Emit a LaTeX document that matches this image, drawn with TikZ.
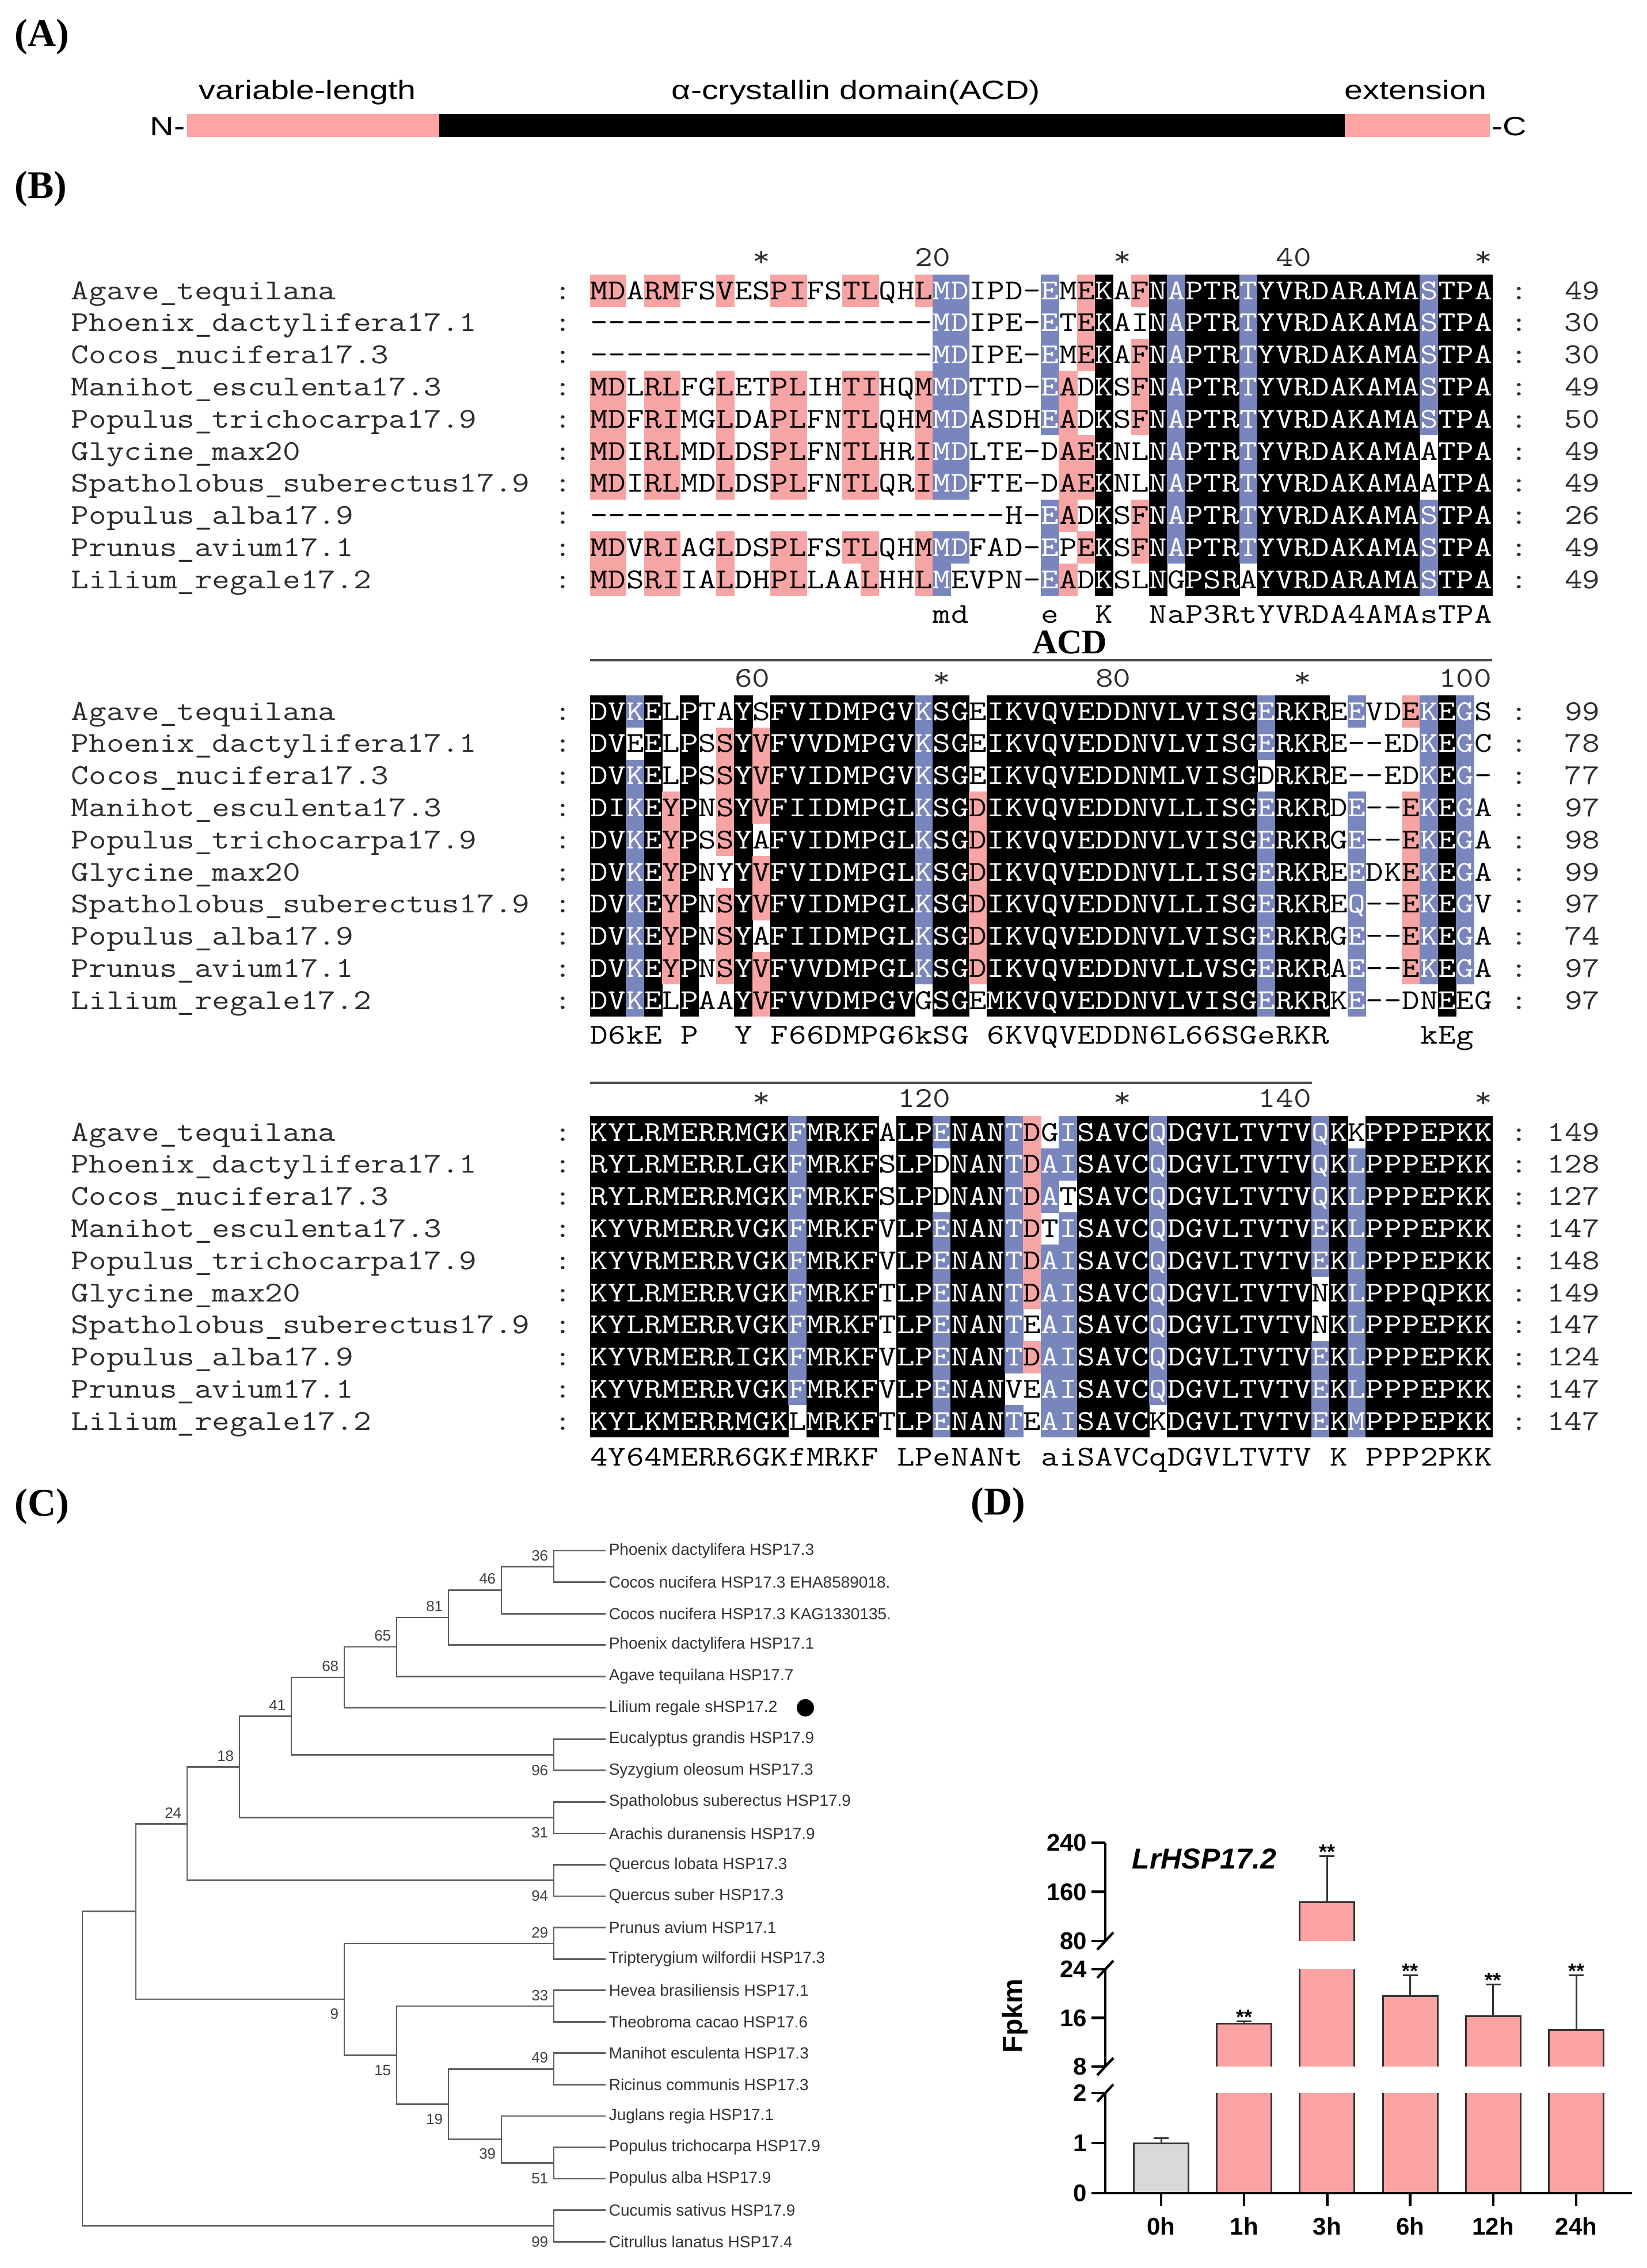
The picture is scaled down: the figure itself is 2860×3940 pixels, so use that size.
\documentclass[tikz,border=0pt]{standalone}
\usepackage{fontspec}
\usepackage{graphicx}
\setsansfont{Liberation Sans}
\newfontfamily\serifL{Liberation Serif}
\newfontfamily\domfont[FakeStretch=1.25]{Liberation Sans}
\definecolor{alnblue}{RGB}{121,134,189}
\definecolor{alnpink}{RGB}{246,164,164}
\definecolor{dompink}{RGB}{255,163,163}
\definecolor{barpink}{RGB}{251,162,162}
\definecolor{bargray}{RGB}{217,217,217}
\definecolor{alngray}{RGB}{45,45,45}
\definecolor{treegray}{RGB}{95,95,95}
\newcommand\alnfont{\ttfamily\fontsize{12.5}{12.5}\selectfont}
\newcommand\sx[1]{\scalebox{1.19}[1]{#1}}

\newcount\alncol
\def\alnrow#1#2#3{\alncol=0 \def\alny{#1}\alnparse#2\alnend#3\alnend}
\def\alnparse#1#2\alnend#3#4\alnend{%
  \alncell{#1}{#3}%
  \advance\alncol by 1\relax
  \def\alnrest{#2}%
  \ifx\alnrest\empty\let\alnnext\alnstop\else\let\alnnext\alnparse\fi
  \alnnext#2\alnend#4\alnend}
\def\alnstop#1\alnend#2\alnend{}
\def\alncell#1#2{%
  \edef\alnx{\the\alncol}%
  \def\alntc{black}%
  \if#2k\fill[black] ({1024.5+\alnx*31.34},{\alny-28}) rectangle ({1025.5+(\alnx+1)*31.34},{\alny+28});\def\alntc{white}\fi
  \if#2b\fill[alnblue] ({1024.5+\alnx*31.34},{\alny-28}) rectangle ({1025.5+(\alnx+1)*31.34},{\alny+28});\def\alntc{white}\fi
  \if#2p\fill[alnpink] ({1024.5+\alnx*31.34},{\alny-28}) rectangle ({1025.5+(\alnx+1)*31.34},{\alny+28});\fi
  \if#1.\else\node[alnchar,text=\alntc] at ({1025+(\alnx+0.5)*31.34},{\alny+15}) {\sx{#1}};\fi}

\newcommand\seqrow[5]{%
  \pgfmathsetmacro\ry{#1}%
  \node[alnname] at (123,{\ry+15}) {\sx{#2}};
  \node[alnchar,text=alngray] at (978,{\ry+15}) {\sx{:}};
  \alnrow{\ry}{#3}{#4}%
  \node[alnchar,text=alngray] at (2639,{\ry+15}) {\sx{:}};
  \node[alnnum] at (2780,{\ry+15}) {\sx{#5}};}

\newcommand\barpiece[5]{%
  \fill[#4] ({#1-47.5},#2) rectangle ({#1+47.5},#3);
  \ifnum#5=1 \draw[barline] ({#1-47.5},#2) -- ({#1-47.5},#3) -- ({#1+47.5},#3) -- ({#1+47.5},#2);
  \else \draw[barline] ({#1-47.5},#2) -- ({#1-47.5},#3) ({#1+47.5},#2) -- ({#1+47.5},#3);\fi}

\tikzset{
  alnchar/.style={font=\alnfont,inner sep=0pt,anchor=base},
  alnname/.style={font=\alnfont,inner sep=0pt,anchor=base west,text=alngray},
  alnnum/.style={font=\alnfont,inner sep=0pt,anchor=base east,text=alngray},
  panellab/.style={font=\serifL\bfseries\fontsize{17}{17}\selectfont,inner sep=0pt,anchor=west},
  domtext/.style={font=\domfont\fontsize{11.5}{12}\selectfont,inner sep=0pt,anchor=base},
  treeline/.style={draw=treegray,line width=0.7pt},
  leaflab/.style={font=\sffamily\fontsize{7}{7}\selectfont,inner sep=0pt,anchor=west,text=black!80},
  bootlab/.style={font=\sffamily\fontsize{6.5}{6.5}\selectfont,inner sep=0pt,anchor=east,text=black!75},
  barline/.style={draw=black!80,line width=0.75pt},
  axisline/.style={draw=black,line width=1.1pt},
  ticklab/.style={font=\sffamily\bfseries\fontsize{10.5}{10.5}\selectfont,inner sep=0pt},
  acdline/.style={draw=black!70,line width=1pt},
}

\begin{document}
\begin{tikzpicture}[x=0.25pt,y=-0.25pt]
\fill[white] (0,0) rectangle (2860,3940);
\useasboundingbox (0,0) rectangle (2860,3940);

% ---------------- Panel A ----------------
\node[panellab] (labA) at (25,64) {(A)};
\node[domtext] (tvar) at (534,172) {variable-length};
\node[domtext] (tacd) at (1487,172) {α-crystallin domain(ACD)};
\node[domtext] (text) at (2459,172) {extension};
\fill[dompink] (325,198) rectangle (763,238);
\fill[black] (763,198) rectangle (2336,238);
\fill[dompink] (2336,198) rectangle (2588,238);
\node[font=\domfont\fontsize{11.5}{12}\selectfont,inner sep=0pt,anchor=east] (nterm) at (322,220) {N-};
\node[font=\domfont\fontsize{11.5}{12}\selectfont,inner sep=0pt,anchor=west] (cterm) at (2591,220) {-C};

% ---------------- Panel B ----------------
\node[panellab] (labB) at (25,328) {(B)};

% block 1 header
\node[alnchar,text=alngray] at (1322.7,462) {\sx{*}};
\node[alnnum] at (1651.8,462) {\sx{20}};
\node[alnchar,text=alngray] at (1949.5,462) {\sx{*}};
\node[alnnum] at (2278.6,462) {\sx{40}};
\node[alnchar,text=alngray] at (2576.3,462) {\sx{*}};

\seqrow{505.0}{Agave\_tequilana}{MDARMFSVESPIFSTLQHLMDIPD-EMEKAFNAPTRTYVRDARAMASTPA}{ppwppwwpww ppwwppwwpb bwwwwbwpkw pkbkkkbkkk kkkkkkbkkk}{49}
\seqrow{560.8}{Phoenix\_dactylifera17.1}{-------------------MDIPE-ETEKAINAPTRTYVRDAKAMASTPA}{wwwwwwwwww wwwwwwwwwb bwwwwbwpkw wkbkkkbkkk kkkkkkbkkk}{30}
\seqrow{616.6}{Cocos\_nucifera17.3}{-------------------MDIPE-EMEKAFNAPTRTYVRDAKAMASTPA}{wwwwwwwwww wwwwwwwwwb bwwwwbwpkw pkbkkkbkkk kkkkkkbkkk}{30}
\seqrow{672.4}{Manihot\_esculenta17.3}{MDLRLFGLETPLIHTIHQMMDTTD-EADKSFNAPTRTYVRDAKAMASTPA}{ppwppwwpww ppwwppwwpb bwwwwbpwkw pkbkkkbkkk kkkkkkbkkk}{49}
\seqrow{728.2}{Populus\_trichocarpa17.9}{MDFRIMGLDAPLFNTLQHMMDASDHEADKSFNAPTRTYVRDAKAMASTPA}{ppwppwwpww ppwwppwwpb bwwwwbpwkw pkbkkkbkkk kkkkkkbkkk}{50}
\seqrow{784.0}{Glycine\_max20}{MDIRLMDLDSPLFNTLHRIMDLTE-DAEKNLNAPTRTYVRDAKAMAATPA}{ppwppwwpww ppwwppwwpb bwwwwwppkw wkbkkkbkkk kkkkkkwkkk}{49}
\seqrow{839.8}{Spatholobus\_suberectus17.9}{MDIRLMDLDSPLFNTLQRIMDFTE-DAEKNLNAPTRTYVRDAKAMAATPA}{ppwppwwpww ppwwppwwpb bwwwwwppkw wkbkkkbkkk kkkkkkwkkk}{49}
\seqrow{895.6}{Populus\_alba17.9}{-----------------------H-EADKSFNAPTRTYVRDAKAMASTPA}{wwwwwwwwww wwwwwwwwww wwwwwbpwkw pkbkkkbkkk kkkkkkbkkk}{26}
\seqrow{951.4}{Prunus\_avium17.1}{MDVRIAGLDSPLFSTLQHMMDFAD-EPEKSFNAPTRTYVRDAKAMASTPA}{ppwppwwpww ppwwppwwpb bwwwwbwpkw pkbkkkbkkk kkkkkkbkkk}{49}
\seqrow{1007.2}{Lilium\_regale17.2}{MDSRIIALDHPLLAALHHLMEVPN-EADKSLNGPSRAYVRDARAMASTPA}{ppwppwwpww ppwwwpwwpb wwwwwbpwkw wkwkkkwkkk kkkkkkbkkk}{49}
\alnrow{1067}{...................md....e..K..NaP3RtYVRDA4AMAsTPA}{wwwwwwwwww wwwwwwwwww wwwwwwwwww wwwwwwwwww wwwwwwwwww}

% block 2
\node[font=\serifL\bfseries\fontsize{15}{15}\selectfont,inner sep=0pt] (acdlab) at (1858,1116) {ACD};
\draw[acdline] (1025,1147) -- (2592,1147);
\node[alnnum] at (1338.4,1193) {\sx{60}};
\node[alnchar,text=alngray] at (1636.1,1193) {\sx{*}};
\node[alnnum] at (1965.2,1193) {\sx{80}};
\node[alnchar,text=alngray] at (2262.9,1193) {\sx{*}};
\node[alnnum] at (2592,1193) {\sx{100}};

\seqrow{1236.0}{Agave\_tequilana}{DVKELPTAYSFVIDMPGVKSGEIKVQVEDDNVLVISGERKREEVDEKEGS}{kkbkwkwwkw kkkkkkkkbk kwkkkkkkkk kkkkkkkbkk kwbwwpbkbw}{99}
\seqrow{1291.8}{Phoenix\_dactylifera17.1}{DVEELPSSYVFVVDMPGVKSGEIKVQVEDDNVLVISGERKRE--EDKEGC}{kkwkwkwpkp kkkkkkkkbk kwkkkkkkkk kkkkkkkbkk kwwwwwbkbw}{78}
\seqrow{1347.6}{Cocos\_nucifera17.3}{DVKELPSSYVFVIDMPGVKSGEIKVQVEDDNMLVISGDRKRE--EDKEG-}{kkbkwkwpkp kkkkkkkkbk kwkkkkkkkk kkkkkkkwkk kwwwwwbkbw}{77}
\seqrow{1403.4}{Manihot\_esculenta17.3}{DIKEYPNSYVFIIDMPGLKSGDIKVQVEDDNVLLISGERKRDE--EKEGA}{kkbkpkwpkp kkkkkkkkbk kpkkkkkkkk kkkkkkkbkk kwbwwpbkbw}{97}
\seqrow{1459.2}{Populus\_trichocarpa17.9}{DVKEYPSSYAFVIDMPGLKSGDIKVQVEDDNVLVISGERKRGE--EKEGA}{kkbkpkwpkw kkkkkkkkbk kpkkkkkkkk kkkkkkkbkk kwbwwpbkbw}{98}
\seqrow{1515.0}{Glycine\_max20}{DVKEYPNYYVFVIDMPGLKSGDIKVQVEDDNVLLISGERKREEDKEKEGA}{kkbkpkwwkp kkkkkkkkbk kpkkkkkkkk kkkkkkkbkk kwbwwpbkbw}{99}
\seqrow{1570.8}{Spatholobus\_suberectus17.9}{DVKEYPNSYVFVIDMPGLKSGDIKVQVEDDNVLLISGERKREQ--EKEGV}{kkbkpkwpkp kkkkkkkkbk kpkkkkkkkk kkkkkkkbkk kwbwwpbkbw}{97}
\seqrow{1626.6}{Populus\_alba17.9}{DVKEYPNSYAFIIDMPGLKSGDIKVQVEDDNVLVISGERKRGE--EKEGA}{kkbkpkwpkw kkkkkkkkbk kpkkkkkkkk kkkkkkkbkk kwbwwpbkbw}{74}
\seqrow{1682.4}{Prunus\_avium17.1}{DVKEYPNSYVFVVDMPGLKSGDIKVQVEDDNVLLVSGERKRAE--EKEGA}{kkbkpkwpkp kkkkkkkkbk kpkkkkkkkk kkkkkkkbkk kwbwwpbkbw}{97}
\seqrow{1738.2}{Lilium\_regale17.2}{DVKELPAAYVFVVDMPGVGSGEMKVQVEDDNVLVISGERKRKE--DNEEG}{kkbkwkwwkp kkkkkkkkwk kwkkkkkkkk kkkkkkkbkk kwbwwwwkww}{97}
\alnrow{1798}{D6kE.P..Y.F66DMPG6kSG.6KVQVEDDN6L66SGeRKR.....kEg.}{wwwwwwwwww wwwwwwwwww wwwwwwwwww wwwwwwwwww wwwwwwwwww}

% block 3
\draw[acdline] (1025,1881) -- (2279,1881);
\node[alnchar,text=alngray] at (1322.7,1923) {\sx{*}};
\node[alnnum] at (1651.8,1923) {\sx{120}};
\node[alnchar,text=alngray] at (1949.5,1923) {\sx{*}};
\node[alnnum] at (2278.6,1923) {\sx{140}};
\node[alnchar,text=alngray] at (2576.3,1923) {\sx{*}};

\seqrow{1967.0}{Agave\_tequilana}{KYLRMERRMGKFMRKFALPENANTDGISAVCQDGVLTVTVQKKPPPEPKK}{kkkkkkkkkk kbkkkkwkkb kkkbpwbkkk kbkkkkkkkk bkwkkkkkkk}{149}
\seqrow{2022.8}{Phoenix\_dactylifera17.1}{RYLRMERRLGKFMRKFSLPDNANTDAISAVCQDGVLTVTVQKLPPPEPKK}{kkkkkkkkkk kbkkkkwkkw kkkbpbbkkk kbkkkkkkkk bkbkkkkkkk}{128}
\seqrow{2078.6}{Cocos\_nucifera17.3}{RYLRMERRMGKFMRKFSLPDNANTDATSAVCQDGVLTVTVQKLPPPEPKK}{kkkkkkkkkk kbkkkkwkkw kkkbpbwkkk kbkkkkkkkk bkbkkkkkkk}{127}
\seqrow{2134.4}{Manihot\_esculenta17.3}{KYVRMERRVGKFMRKFVLPENANTDTISAVCQDGVLTVTVEKLPPPEPKK}{kkkkkkkkkk kbkkkkwkkb kkkbpwbkkk kbkkkkkkkk bkbkkkkkkk}{147}
\seqrow{2190.2}{Populus\_trichocarpa17.9}{KYVRMERRVGKFMRKFVLPENANTDAISAVCQDGVLTVTVEKLPPPEPKK}{kkkkkkkkkk kbkkkkwkkb kkkbpbbkkk kbkkkkkkkk bkbkkkkkkk}{148}
\seqrow{2246.0}{Glycine\_max20}{KYLRMERRVGKFMRKFTLPENANTDAISAVCQDGVLTVTVNKLPPPQPKK}{kkkkkkkkkk kbkkkkwkkb kkkbpbbkkk kbkkkkkkkk wkbkkkkkkk}{149}
\seqrow{2301.8}{Spatholobus\_suberectus17.9}{KYLRMERRVGKFMRKFTLPENANTEAISAVCQDGVLTVTVNKLPPPEPKK}{kkkkkkkkkk kbkkkkwkkb kkkbwbbkkk kbkkkkkkkk wkbkkkkkkk}{147}
\seqrow{2357.6}{Populus\_alba17.9}{KYVRMERRIGKFMRKFVLPENANTDAISAVCQDGVLTVTVEKLPPPEPKK}{kkkkkkkkkk kbkkkkwkkb kkkbpbbkkk kbkkkkkkkk bkbkkkkkkk}{124}
\seqrow{2413.4}{Prunus\_avium17.1}{KYVRMERRVGKFMRKFVLPENANVEAISAVCQDGVLTVTVEKLPPPEPKK}{kkkkkkkkkk kbkkkkwkkb kkkwwbbkkk kbkkkkkkkk bkbkkkkkkk}{147}
\seqrow{2469.2}{Lilium\_regale17.2}{KYLKMERRMGKLMRKFTLPENANTEAISAVCKDGVLTVTVEKMPPPEPKK}{kkkkkkkkkk kwkkkkwkkb kkkbwbbkkk kwkkkkkkkk bkbkkkkkkk}{147}
\alnrow{2531}{4Y64MERR6GKfMRKF.LPeNANt.aiSAVCqDGVLTVTV.K.PPP2PKK}{wwwwwwwwww wwwwwwwwww wwwwwwwwww wwwwwwwwww wwwwwwwwww}

% ---------------- Panel C ----------------
\node[panellab] (labC) at (25,2617) {(C)};
\foreach \i/\t in {1/Phoenix dactylifera HSP17.3, 2/Cocos nucifera HSP17.3 EHA8589018., 3/Cocos nucifera HSP17.3 KAG1330135., 4/Phoenix dactylifera HSP17.1, 5/Agave tequilana HSP17.7, 6/Lilium regale sHSP17.2, 7/Eucalyptus grandis HSP17.9, 8/Syzygium oleosum HSP17.3, 9/Spatholobus suberectus HSP17.9, 10/Arachis duranensis HSP17.9, 11/Quercus lobata HSP17.3, 12/Quercus suber HSP17.3, 13/Prunus avium HSP17.1, 14/Tripterygium wilfordii HSP17.3, 15/Hevea brasiliensis HSP17.1, 16/Theobroma cacao HSP17.6, 17/Manihot esculenta HSP17.3, 18/Ricinus communis HSP17.3, 19/Juglans regia HSP17.1, 20/Populus trichocarpa HSP17.9, 21/Populus alba HSP17.9, 22/Cucumis sativus HSP17.9, 23/Citrullus lanatus HSP17.4}{
  \coordinate (L\i) at (1052,{2694+(\i-1)*54.55});
  \node[leaflab] (T\i) at (1057,{2694+(\i-1)*54.55}) {\t};
}
\coordinate (n36) at (962,2721.3);
\coordinate (n46) at (871,2762.2);
\coordinate (n81) at (779,2809.9);
\coordinate (n65) at (689,2861.05);
\coordinate (n68) at (598,2913.9);
\coordinate (n96) at (962,3048.6);
\coordinate (n41) at (506,2981.25);
\coordinate (n31) at (962,3157.7);
\coordinate (n18) at (416,3069.5);
\coordinate (n94) at (962,3266.8);
\coordinate (n24) at (325,3168.15);
\coordinate (n29) at (962,3375.9);
\coordinate (n33) at (962,3485.0);
\coordinate (n49) at (962,3594.1);
\coordinate (n51) at (962,3757.7);
\coordinate (n39) at (871,3716.8);
\coordinate (n19) at (779,3655.45);
\coordinate (n15) at (689,3570.2);
\coordinate (n9) at (598,3473.05);
\coordinate (nA) at (236,3320.6);
\coordinate (n99) at (962,3866.8);
\coordinate (root) at (143,3593.7);
\foreach \p/\c in {n36/L1,n36/L2,n46/n36,n46/L3,n81/n46,n81/L4,n65/n81,n65/L5,n68/n65,n68/L6,n96/L7,n96/L8,n41/n68,n41/n96,n31/L9,n31/L10,n18/n41,n18/n31,n94/L11,n94/L12,n24/n18,n24/n94,n29/L13,n29/L14,n33/L15,n33/L16,n49/L17,n49/L18,n51/L20,n51/L21,n39/L19,n39/n51,n19/n49,n19/n39,n15/n33,n15/n19,n9/n29,n9/n15,nA/n24,nA/n9,n99/L22,n99/L23,root/nA,root/n99}{
  \draw[treeline] (\p) |- (\c);
}
\foreach \v/\x/\y in {36/953/2703,46/862/2743,81/770/2791,65/680/2842,68/589/2895,41/497/2963,18/407/3051,24/316/3149,96/953/3076,31/953/3184,94/953/3294,29/953/3358,33/953/3467,49/953/3575,51/953/3785,39/862/3742,19/770/3682,15/680/3597,9/589/3499,99/953/3894}{
  \node[bootlab] (b\v) at (\x,\y) {\v};
}
\fill[black] (1399,2966.75) circle [radius=15];

% ---------------- Panel D ----------------
\node[panellab] (labD) at (1686,2615) {(D)};
\barpiece{2017}{3810}{3723}{bargray}{1}
\barpiece{2161.2}{3810}{3636}{barpink}{0}
\barpiece{2161.2}{3590}{3515}{barpink}{1}
\barpiece{2305.4}{3810}{3636}{barpink}{0}
\barpiece{2305.4}{3590}{3421}{barpink}{0}
\barpiece{2305.4}{3372}{3304.7}{barpink}{1}
\barpiece{2449.6}{3810}{3636}{barpink}{0}
\barpiece{2449.6}{3590}{3467.5}{barpink}{1}
\barpiece{2593.8}{3810}{3636}{barpink}{0}
\barpiece{2593.8}{3590}{3502.3}{barpink}{1}
\barpiece{2738}{3810}{3636}{barpink}{0}
\barpiece{2738}{3590}{3526.6}{barpink}{1}
\foreach \cx/\yt/\ye/\st in {2017/3723/3714/0,2161.2/3515/3511/1,2305.4/3304.7/3224.5/1,2449.6/3467.5/3431.6/1,2593.8/3502.3/3447.4/1,2738/3526.6/3431.6/1}{
  \draw[barline] (\cx,\yt) -- (\cx,\ye);
  \draw[barline] ({\cx-13},\ye) -- ({\cx+13},\ye);
  \ifnum\st=1
    \node[font=\sffamily\bfseries\fontsize{9}{9}\selectfont,inner sep=0pt,anchor=base] at (\cx,{\ye+5}) {**};
  \fi
}
\draw[axisline] (1920,3201) -- (1920,3372);
\draw[axisline] (1920,3421) -- (1920,3590);
\draw[axisline] (1920,3636) -- (1920,3810);
\foreach \yy in {3372,3421,3590,3636}{
  \draw[axisline] (1906,{\yy+15}) -- (1934,{\yy-15});
}
\foreach \v/\yy in {240/3201,160/3286.5,80/3372,24/3421,16/3505.5,8/3590,2/3636,1/3723,0/3810}{
  \draw[axisline] (1896,\yy) -- (1920,\yy);
  \node[ticklab,anchor=east] (yl\v) at (1889,\yy) {\v};
}
\draw[axisline] (1920,3810) -- (2835,3810);
\foreach \cx/\lab in {2017/0h,2161.2/1h,2305.4/3h,2449.6/6h,2593.8/12h,2738/24h}{
  \draw[axisline] (\cx,3810) -- (\cx,3832);
  \node[ticklab] (xl\lab) at (\cx,3867) {\lab};
}
\node[font=\sffamily\bfseries\fontsize{12}{12}\selectfont,inner sep=0pt,rotate=90] (ylab) at (1763,3502) {Fpkm};
\node[font=\sffamily\bfseries\itshape\fontsize{12.5}{12.5}\selectfont,inner sep=0pt,anchor=west] (gene) at (1966,3229) {LrHSP17.2};

\end{tikzpicture}
\end{document}
